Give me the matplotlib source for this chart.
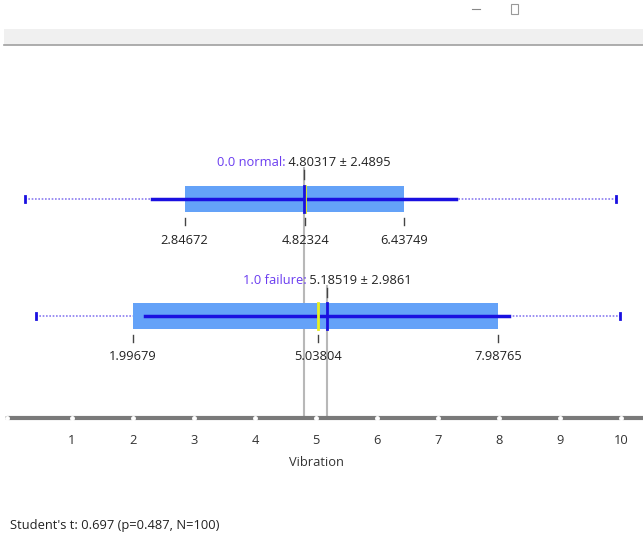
import matplotlib
matplotlib.use("Agg")
import matplotlib.pyplot as plt
from matplotlib.patches import Rectangle

# ---- data ----
groups = ["0.0 normal", "1.0 failure"]
mins = [0.23, 0.41]
maxs = [9.92, 9.98]
q1 = [2.84672, 1.99679]
medians = [4.82324, 5.03804]
q3 = [6.43749, 7.98765]
means = [4.80317, 5.18519]
stds = [2.4895, 2.9861]
xticks = [1, 2, 3, 4, 5, 6, 7, 8, 9, 10]
xlabel = "Vibration"
stat_text = "Student's t: 0.697 (p=0.487, N=100)"

plt.rcParams['font.family'] = ['Open Sans', 'DejaVu Sans']
FS = 9.3

W, H = 643, 535
fig = plt.figure(figsize=(W / 100, H / 100), dpi=100)
fig.patch.set_facecolor("white")

# window chrome
fig.add_artist(Rectangle((4 / W, 1 - 45 / H), 1, 16 / H, transform=fig.transFigure,
                         facecolor="#f0f0f0", edgecolor="none"))
fig.add_artist(plt.Line2D([4 / W, 1], [1 - 44.5 / H, 1 - 44.5 / H], transform=fig.transFigure,
                          color="#a0a0a0", lw=1.2))
fig.add_artist(plt.Line2D([472 / W, 480 / W], [1 - 9 / H, 1 - 9 / H], transform=fig.transFigure,
                          color="#888888", lw=0.8))
fig.add_artist(Rectangle((511 / W, 1 - 14 / H), 7 / W, 10 / H, transform=fig.transFigure,
                         facecolor="white", edgecolor="#999999", lw=0.8))

ax = fig.add_axes([0, 0, 1, 1])
x0, ppu = 11.0, 61.0
ax.set_xlim(-x0 / ppu, (W - x0) / ppu)
ax.set_ylim(H, 0)
ax.axis("off")

row_y = [199, 316]
box_h = 26
label_y = [162, 280]
gray_top = [168, 286]
axis_y = 418

box_col = "#64a2f8"
dark = "#1a10e0"
label_col = "#6a3cf0"

renderer = fig.canvas.get_renderer()

for i in range(len(groups)):
    y = row_y[i]
    # gray mean reference line
    ax.plot([means[i], means[i]], [gray_top[i], axis_y], color="#b8b8b8", lw=1.5, zorder=1)
    # dotted min-max
    ax.plot([mins[i], maxs[i]], [y, y], color="#8a7cf0", lw=1.2, ls=(0, (1, 1)), zorder=2)
    ax.plot([mins[i], mins[i]], [y - 3, y + 3], color=dark, lw=2, zorder=3)
    ax.plot([maxs[i], maxs[i]], [y - 3, y + 3], color=dark, lw=2, zorder=3)
    # box
    ax.add_patch(Rectangle((q1[i], y - box_h / 2), q3[i] - q1[i], box_h,
                           facecolor=box_col, edgecolor="none", zorder=3))
    # mean +- sd
    ax.plot([means[i] - stds[i], means[i] + stds[i]], [y, y], color=dark, lw=2.5, zorder=4)
    # median
    ax.plot([medians[i], medians[i]], [y - box_h / 2, y + box_h / 2], color="#e8f020", lw=2, zorder=5)
    # mean
    ax.plot([means[i], means[i]], [y - box_h / 2, y + box_h / 2], color=dark, lw=2, zorder=6)
    # label: whole label centred on the mean
    part1 = groups[i] + ":"
    part2 = " %.5f \u00b1 %.4f" % (means[i], stds[i])
    t1 = ax.text(0, 0, part1, fontsize=FS)
    t2 = ax.text(0, 0, part2, fontsize=FS)
    w1 = t1.get_window_extent(renderer).width
    w2 = t2.get_window_extent(renderer).width
    t1.remove(); t2.remove()
    xs = means[i] - (w1 + w2) / 2 / ppu
    ax.text(xs, label_y[i], part1, color=label_col, fontsize=FS, ha="left", va="center", zorder=7)
    ax.text(xs + w1 / ppu, label_y[i], part2, color="#222222",
            fontsize=FS, ha="left", va="center", zorder=7)
    ax.plot([means[i], means[i]], [label_y[i] + 8, label_y[i] + 17], color="#444444", lw=1, zorder=7)
    # quartile ticks and labels
    for v in (q1[i], medians[i], q3[i]):
        ax.plot([v, v], [y + box_h / 2 + 6, y + box_h / 2 + 13], color="#444444", lw=1, zorder=7)
        ax.text(v, y + box_h / 2 + 28, "%.5f" % v, color="#222222", fontsize=FS,
                ha="center", va="center", zorder=7)

# axis
ax.plot([-4 / ppu, (W - x0) / ppu], [axis_y, axis_y], color="#7a7a7a", lw=3, zorder=2,
        solid_capstyle="round")
ax.plot([-4 / ppu] + xticks, [axis_y] * (len(xticks) + 1), ls="none", marker="o", ms=2.5,
        mfc="white", mec="white", zorder=3)
for t in xticks:
    ax.text(t, 440, str(t), color="#333333", fontsize=FS, ha="center", va="center")
ax.text(5.0, 463, xlabel, color="#333333", fontsize=FS, ha="center", va="center")

ax.text(-1 / ppu, 525, stat_text, color="#222222", fontsize=FS, ha="left", va="center")

fig.savefig("out.png", dpi=100, facecolor="white")
